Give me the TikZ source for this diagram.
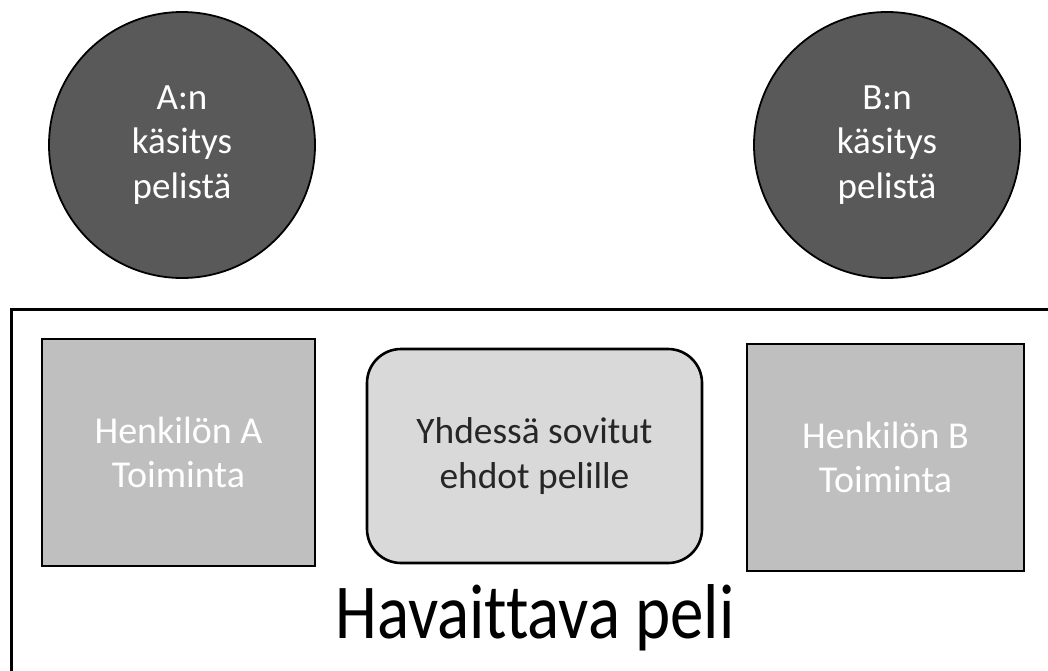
\documentclass[tikz,border=0pt]{standalone}
\usepackage{fontspec}
\setmainfont[Ligatures=NoCommon]{Carlito}
\definecolor{circlefill}{HTML}{595959}
\definecolor{actfill}{HTML}{BFBFBF}
\definecolor{rulefill}{HTML}{D9D9D9}
\definecolor{darktext}{HTML}{262626}
\begin{document}
\begin{tikzpicture}[x=1pt,y=-1pt,
  view/.style={circle, draw=black, line width=1.8pt, fill=circlefill, text=white,
    minimum size=266pt, inner sep=0pt, align=center,
    font=\fontsize{37}{44.5}\selectfont},
  action/.style={rectangle, draw=black, line width=2.6pt, fill=actfill, text=white,
    inner sep=0pt, align=center, font=\fontsize{38}{44}\selectfont},
  rules/.style={rectangle, rounded corners=34pt, draw=black, line width=2.6pt, fill=rulefill,
    text=darktext, inner sep=0pt, align=center, font=\fontsize{37.4}{45}\selectfont},
  frame/.style={rectangle, draw=black, line width=2.8pt, inner sep=0pt}]
\useasboundingbox (0,0) rectangle (1048,670);
\clip (0,0) rectangle (1048,670);
% outer frame of the observable game, running past the page edge
\node[frame, minimum width=1060pt, minimum height=380pt, anchor=north west] (game) at (10,308) {};
% each player's view of the game
\node[view] (viewA) at (182,145) {A:n\\käsitys\\pelistä};
\node[view] (viewB) at (887,145) {B:n\\käsitys\\pelistä};
% actions and shared rules
\node[action, minimum width=273pt, minimum height=227pt] (actA) at (178.5,452.5) {Henkilön A\\Toiminta};
\node[rules, minimum width=335pt, minimum height=214pt] (shared) at (534.5,456) {Yhdessä sovitut\\ehdot pelille};
\node[action, minimum width=277pt, minimum height=227pt] (actB) at (885.5,457.5) {Henkilön B\\Toiminta};
% caption of the frame
\node[font=\fontsize{67}{70}\selectfont, text=black, inner sep=0pt] (gamelabel) at (535,618)
  {\scalebox{1}[1.16]{Havaittava peli}};
\end{tikzpicture}
\end{document}
